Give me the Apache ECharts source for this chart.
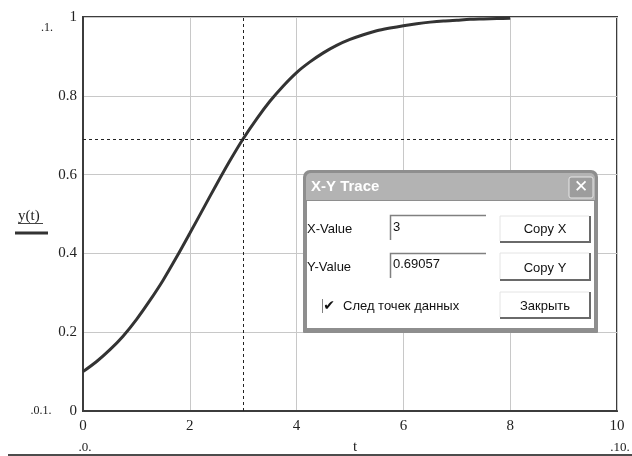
<!DOCTYPE html>
<html>
<head>
<meta charset="utf-8">
<script src="https://cdn.jsdelivr.net/npm/echarts@6/dist/echarts.min.js"></script>
<style>
html,body{margin:0;padding:0;background:#fff;}
#chart{width:632px;height:456px;}
</style>
</head>
<body>
<div id="chart"></div>
<script>
// ---- data ----
const tValues = [0, 0.25, 0.5, 0.75, 1, 1.25, 1.5, 1.75, 2, 2.25, 2.5, 2.75, 3, 3.25, 3.5, 3.75, 4,
                 4.25, 4.5, 4.75, 5, 5.25, 5.5, 5.75, 6, 6.25, 6.5, 6.75, 7, 7.25, 7.5, 7.75, 8];
const yValues = [0.100, 0.125, 0.155, 0.190, 0.232, 0.280, 0.332, 0.390, 0.451, 0.513, 0.575, 0.635, 0.691, 0.741, 0.786, 0.825, 0.859,
                 0.886, 0.909, 0.928, 0.943, 0.955, 0.965, 0.972, 0.978, 0.983, 0.987, 0.990, 0.992, 0.994, 0.995, 0.996, 0.997];
const xTickLabels = ['0', '2', '4', '6', '8', '10'];
const yTickLabels = ['0', '0.2', '0.4', '0.6', '0.8', '1'];
const traceX = 3;
const traceY = 0.69057;
const seriesName = 'y(t)';
const xName = 't';

const serif = '"Liberation Serif", "Times New Roman", serif';
const sans = '"Liberation Sans", Arial, sans-serif';

const chart = echarts.init(document.getElementById('chart'), null, {renderer: 'canvas'});

function txt(x, y, text, font, fill, align, vAlign, z) {
  return {type: 'text', x: x, y: y, z: z || 10,
    style: {text: text, font: font, fill: fill || '#222', align: align || 'left', verticalAlign: vAlign || 'middle'}};
}
function line(x1, y1, x2, y2, stroke, w, z) {
  return {type: 'line', z: z || 10, shape: {x1: x1, y1: y1, x2: x2, y2: y2}, style: {stroke: stroke, lineWidth: w}};
}
function poly(points, stroke, w, z) {
  return {type: 'polyline', z: z || 20, shape: {points: points}, style: {stroke: stroke, lineWidth: w, fill: null}};
}
function rect(x, y, w, h, fill, r, z, stroke, lw) {
  return {type: 'rect', z: z || 20, shape: {x: x, y: y, width: w, height: h, r: r || 0},
    style: {fill: fill, stroke: stroke || null, lineWidth: lw || 0}};
}

const dlgFont = '13px ' + sans;
const dialog = [
  rect(303, 170, 295, 163, '#8e8e8e', [7, 7, 1, 1], 20),
  rect(306, 173, 289, 27, '#b3b3b3', [5, 5, 0, 0], 21),
  rect(307, 201, 287, 127, '#ffffff', 0, 21),
  txt(311, 187, 'X-Y Trace', 'bold 15px ' + sans, '#ffffff', 'left', 'middle', 22),
  rect(569, 177, 24, 21, '#9d9d9d', 2, 22, '#e6e6e6', 1),
  txt(581, 188, '✕', 'bold 17px "DejaVu Sans", sans-serif', '#ffffff', 'center', 'middle', 23),
  // labels
  txt(307, 229, 'X-Value', dlgFont, '#111', 'left', 'middle', 22),
  txt(307, 267, 'Y-Value', dlgFont, '#111', 'left', 'middle', 22),
  // input boxes
  poly([[390.5, 240], [390.5, 215.5], [486, 215.5]], '#808080', 1.5, 22),
  txt(393, 227, String(traceX), dlgFont, '#111', 'left', 'middle', 22),
  poly([[390.5, 278], [390.5, 253.5], [486, 253.5]], '#808080', 1.5, 22),
  txt(393, 264, String(traceY), dlgFont, '#111', 'left', 'middle', 22),
  // buttons
  poly([[500, 242], [590, 242], [590, 216]], '#6a6a6a', 2, 22),
  poly([[500, 241], [500, 216], [589, 216]], '#e4e4e4', 1, 22),
  txt(545, 229, 'Copy X', dlgFont, '#111', 'center', 'middle', 22),
  poly([[500, 280], [590, 280], [590, 253]], '#6a6a6a', 2, 22),
  poly([[500, 279], [500, 253], [589, 253]], '#e4e4e4', 1, 22),
  txt(545, 268, 'Copy Y', dlgFont, '#111', 'center', 'middle', 22),
  poly([[500, 318], [590, 318], [590, 292]], '#6a6a6a', 2, 22),
  poly([[500, 317], [500, 292], [589, 292]], '#e4e4e4', 1, 22),
  txt(545, 306, 'Закрыть', dlgFont, '#111', 'center', 'middle', 22),
  // checkbox
  line(322.5, 299, 322.5, 313, '#808080', 1, 22),
  txt(329, 306, '✔', '14px "DejaVu Sans", sans-serif', '#111', 'center', 'middle', 22),
  txt(343, 306, 'След точек данных', dlgFont, '#111', 'left', 'middle', 22)
];

const decorations = [
  // legend
  txt(18, 216, seriesName, '15px ' + serif, '#222', 'left', 'middle'),
  line(18, 223.5, 43, 223.5, '#444', 1),
  line(15, 233, 48, 233, '#333', 3),
  // range markers
  txt(47, 28, '.1.', '12px ' + serif, '#222', 'center', 'middle'),
  txt(41, 411, '.0.1.', '12px ' + serif, '#222', 'center', 'middle'),
  txt(85, 448, '.0.', '13px ' + serif, '#222', 'center', 'middle'),
  txt(355, 447, xName, '15px ' + serif, '#222', 'center', 'middle'),
  txt(620, 448, '.10.', '13px ' + serif, '#222', 'center', 'middle'),
  line(8, 455, 632, 455, '#111', 1.5)
];

const option = {
  animation: false,
  backgroundColor: '#ffffff',
  grid: {left: 83, right: 15, top: 17, bottom: 45, show: true, borderColor: '#3c3c3c', borderWidth: 2, backgroundColor: 'transparent'},
  xAxis: {
    type: 'value', min: 0, max: 10, interval: 2,
    axisLine: {show: true, onZero: false, lineStyle: {color: '#3c3c3c', width: 2}},
    axisTick: {show: false},
    splitLine: {show: true, lineStyle: {color: '#c8c8c8', width: 1}},
    axisLabel: {margin: 8, color: '#222', fontFamily: serif, fontSize: 15,
      formatter: v => xTickLabels[Math.round(v / 2)]}
  },
  yAxis: {
    type: 'value', min: 0, max: 1, interval: 0.2,
    axisLine: {show: true, onZero: false, lineStyle: {color: '#3c3c3c', width: 2}},
    axisTick: {show: false},
    splitLine: {show: true, lineStyle: {color: '#c8c8c8', width: 1}},
    axisLabel: {margin: 6, color: '#222', fontFamily: serif, fontSize: 15,
      formatter: v => yTickLabels[Math.round(v / 0.2)]}
  },
  series: [{
    name: seriesName,
    type: 'line',
    smooth: 0.3,
    showSymbol: false,
    data: tValues.map((t, i) => [t, yValues[i]]),
    lineStyle: {color: '#333333', width: 3},
    itemStyle: {color: '#333333'},
    z: 3,
    markLine: {
      silent: true,
      symbol: ['none', 'none'],
      label: {show: false},
      lineStyle: {color: '#222', type: [3, 3], width: 1},
      data: [{xAxis: traceX}, {yAxis: traceY}]
    }
  }],
  graphic: decorations.concat(dialog)
};
chart.setOption(option);
</script>
</body>
</html>
